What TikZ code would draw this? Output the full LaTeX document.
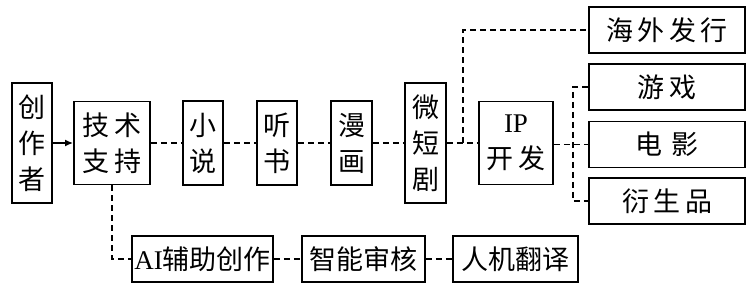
\documentclass[tikz,border=0pt]{standalone}
\usepackage{fontspec}
\setmainfont{Liberation Serif}
\newfontfamily\cjk{Noto Sans CJK SC}
\usetikzlibrary{arrows.meta, positioning}

\begin{document}
\begin{tikzpicture}[x=1pt, y=1pt,
  box/.style={draw, line width=1.8pt, inner sep=0pt, align=center,
    font=\cjk\fontsize{27}{36}\selectfont},
  link/.style={line width=1.6pt, dash pattern=on 6pt off 4pt}]
  \useasboundingbox (0,0) rectangle (751,289);
  \fill[white] (0,0) rectangle (751,289);

  % main chain
  \node[box, minimum width=40pt, minimum height=120pt] (creator) at (32,146) {创\\作\\者};
  \node[box, minimum width=76pt, minimum height=83pt] (tech) at (112,146) {技\,术\\支\,持};
  \node[box, minimum width=40pt, minimum height=84pt] (novel) at (203,146) {小\\说};
  \node[box, minimum width=40pt, minimum height=84pt] (audio) at (277,146) {听\\书};
  \node[box, minimum width=41pt, minimum height=84pt] (comic) at (351.5,146) {漫\\画};
  \node[box, minimum width=41pt, minimum height=120pt] (drama) at (425.5,146) {微\\短\\剧};
  \node[box, minimum width=74pt, minimum height=83pt] (ip) at (516,146) {{\rmfamily IP}\\开\,发};

  % outlets
  \node[box, minimum width=156pt, minimum height=46pt] (overseas) at (667,259) {海\,外\,发\,行};
  \node[box, minimum width=156pt, minimum height=46pt] (game) at (667,202) {游\,戏};
  \node[box, minimum width=156pt, minimum height=46pt] (film) at (667,144.5) {电\hspace{9pt}影};
  \node[box, minimum width=156pt, minimum height=46pt] (merch) at (667,88) {衍\,生\,品};

  % support row
  \node[box, minimum width=141pt, minimum height=46pt] (ai) at (202.5,30) {{\rmfamily AI}辅助创作};
  \node[box, minimum width=123pt, minimum height=46pt] (review) at (363.5,30) {智能审核};
  \node[box, minimum width=125pt, minimum height=46pt] (translate) at (515.5,30) {人机翻译};

  \coordinate (fork) at (463,146);
  \coordinate (split) at (573,146);

  \draw[-{Latex[length=8pt,width=7pt]}, line width=1.6pt] (creator) -- (tech);
  \draw[link] (tech) -- (novel);
  \draw[link] (novel) -- (audio);
  \draw[link] (audio) -- (comic);
  \draw[link] (comic) -- (drama);
  \draw[link] (drama) -- (ip);
  \draw[link] (fork) |- (overseas.west);
  \draw[link] (ip.east |- film.west) -- (film.west);
  \draw[link] (game.west) -| (split) |- (merch.west);
  \draw[link] (tech.south) |- (ai.west);
  \draw[link] (ai) -- (review);
  \draw[link] (review) -- (translate);
\end{tikzpicture}
\end{document}
